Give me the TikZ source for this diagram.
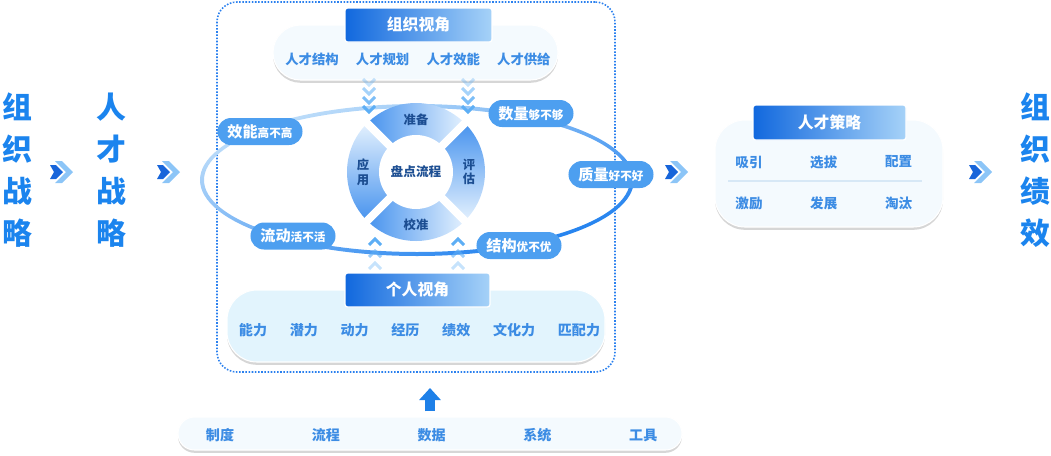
\documentclass[tikz,border=0pt]{standalone}
\usepackage{fontspec}
\setmainfont{Noto Sans CJK SC}
\usepackage{xcolor}
\usetikzlibrary{positioning,shadows,arrows.meta}
\definecolor{big}{HTML}{1B84EE}
\definecolor{hdl}{HTML}{1168DE}
\definecolor{hdm}{HTML}{2F82EA}
\definecolor{hdr}{HTML}{A6D2F8}
\definecolor{pil}{HTML}{F4FAFE}
\definecolor{pilb}{HTML}{E2F4FD}
\definecolor{itx}{HTML}{3C8CE4}
\definecolor{tagc}{HTML}{4D9FF0}
\definecolor{rng}{HTML}{4793EE}
\definecolor{rngl}{HTML}{E4F1FE}
\definecolor{dk}{HTML}{1C4E92}
\definecolor{elt}{HTML}{C4E1FA}
\definecolor{eld}{HTML}{1E7FEE}
\definecolor{chd}{HTML}{1765DA}
\definecolor{chl}{HTML}{8CC5F7}
\definecolor{chv}{HTML}{5DAEF5}
\definecolor{dot}{HTML}{2A80EE}
\definecolor{upc}{HTML}{1E80E8}
\definecolor{sep}{HTML}{D7E8F6}
\tikzset{
  bigtxt/.style={text=big, inner sep=0pt, align=center, font=\fontsize{17}{24}\selectfont\bfseries},
  hdbox/.style={draw=white, line width=0.7pt, rounded corners=1.5pt, left color=hdl, middle color=hdm, right color=hdr, text=white, inner sep=0pt, font=\fontsize{9}{11}\selectfont\bfseries},
  pill/.style={fill=pil, draw=white, line width=0.6pt, drop shadow={shadow xshift=0pt, shadow yshift=-1.6pt, fill=black, opacity=0.16}},
  itm/.style={text=itx, inner sep=0pt, font=\fontsize{7.6}{9}\selectfont\bfseries},
  tag/.style={fill=tagc, text=white, rounded corners=2.7mm, minimum height=5.4mm, inner xsep=2mm, inner ysep=0pt, font=\fontsize{6.6}{8}\selectfont\bfseries},
  seg/.style={text=dk, inner sep=0pt, align=center, font=\fontsize{7}{8.4}\selectfont\bfseries},
  frm/.style={draw=dot, line width=0.9pt, dash pattern=on 0.9pt off 0.9pt, rounded corners=4mm},
  chvl/.style={line width=1.7pt, draw=chv},
  chevpr/.pic={
    \fill[chl] (-7,11) -- (0,11) -- (11,0) -- (0,-11) -- (-7,-11) -- (4,0) -- cycle;
    \fill[chd] (-12,7) -- (-6,7) -- (1,0) -- (-6,-7) -- (-12,-7) -- (-8,0) -- cycle;},
  chevdn/.pic={\draw[chvl] (-6,3) -- (0,-3) -- (6,3);},
  chevup/.pic={\draw[chvl] (-6,-3) -- (0,3) -- (6,-3);}}

\begin{document}
\begin{tikzpicture}[x=0.2mm, y=0.2mm, node distance=0pt]
\useasboundingbox (0,0) rectangle (1051,-455);
% strategy columns
\node[bigtxt] (os) at (17,-170) {组\\织\\战\\略};
\node[bigtxt] (ts) at (111,-170) {人\\才\\战\\略};
\node[bigtxt] (op) at (1035,-170) {组\\织\\绩\\效};
\pic at (62,-172) {chevpr};
\pic at (169,-172) {chevpr};
\pic at (677,-172) {chevpr};
\pic at (981,-172) {chevpr};
% dotted frame and orbit
\node[frm, minimum width=79.6mm, minimum height=74mm] (frame) at (416,-187) {};
\shade[top color=elt, bottom color=eld, shading angle=20, even odd rule] (417,-180) ellipse [x radius=217, y radius=76] (417,-180) ellipse [x radius=213, y radius=72];
% organisation view
\node[pill, rounded corners=5.5mm, minimum width=57mm, minimum height=11mm] (orgp) at (415.5,-52.5) {};
\node[hdbox, minimum width=29.4mm, minimum height=6.8mm] (orgh) at (418.5,-25) {组织视角};
\node[itm] (o1) at (312,-59) {人才结构};
\node[itm, right=3.3mm of o1] (o2) {人才规划};
\node[itm, right=3.3mm of o2] (o3) {人才效能};
\node[itm, right=3.3mm of o3] (o4) {人才供给};
\pic[opacity=0.35] at (369,-82) {chevdn};
\pic[opacity=0.55] at (369,-91) {chevdn};
\pic[opacity=0.8] at (369,-100) {chevdn};
\pic at (369,-109) {chevdn};
\pic[opacity=0.35] at (468,-82) {chevdn};
\pic[opacity=0.55] at (468,-91) {chevdn};
\pic[opacity=0.8] at (468,-100) {chevdn};
\pic at (468,-109) {chevdn};
% ring
\coordinate (rc) at (416,-172);
\shade[left color=rng, right color=rngl] (rc) -- ++(135:69) arc[start angle=135, end angle=45, radius=69] -- cycle;
\shade[top color=rng, bottom color=rngl] (rc) -- ++(45:69) arc[start angle=45, end angle=-45, radius=69] -- cycle;
\shade[left color=rng, right color=rngl] (rc) -- ++(-45:69) arc[start angle=-45, end angle=-135, radius=69] -- cycle;
\shade[top color=rngl, bottom color=rng] (rc) -- ++(-135:69) arc[start angle=-135, end angle=-225, radius=69] -- cycle;
\draw[white, line width=1.6mm] (rc) ++(45:72) -- ++(225:144);
\draw[white, line width=1.6mm] (rc) ++(135:72) -- ++(-45:144);
\node[circle, fill=white, minimum size=14.8mm, inner sep=0pt, text=dk, font=\fontsize{7.2}{8.6}\selectfont\bfseries] (core) at (rc) {盘点流程};
\node[seg] (prep) at (416,-120) {准备};
\node[seg] (eval) at (469,-172) {评\\估};
\node[seg] (cali) at (416,-225) {校准};
\node[seg] (appl) at (363,-172) {应\\用};
% tags on the orbit
\node[tag] (eff) at (260,-131.5) {{\fontsize{8.6}{10}\selectfont 效能}高不高};
\node[tag] (qty) at (531,-113.5) {{\fontsize{8.6}{10}\selectfont 数量}够不够};
\node[tag] (qlt) at (611,-174.5) {{\fontsize{8.6}{10}\selectfont 质量}好不好};
\node[tag] (flw) at (293,-236) {{\fontsize{8.6}{10}\selectfont 流动}活不活};
\node[tag] (stc) at (519,-245.5) {{\fontsize{8.6}{10}\selectfont 结构}优不优};
% individual view
\pic at (375,-242) {chevup};
\pic[opacity=0.6] at (375,-254) {chevup};
\pic[opacity=0.35] at (375,-266) {chevup};
\pic at (458,-242) {chevup};
\pic[opacity=0.6] at (458,-254) {chevup};
\pic[opacity=0.35] at (458,-266) {chevup};
\node[pill, fill=pilb, rounded corners=6mm, minimum width=75.6mm, minimum height=14.4mm] (indp) at (416,-326) {};
\node[hdbox, minimum width=29mm, minimum height=6.8mm] (indh) at (417.5,-290) {个人视角};
\node[itm, font=\fontsize{8}{10}\selectfont\bfseries] (i1) at (253,-330) {能力};
\node[itm, font=\fontsize{8}{10}\selectfont\bfseries, right=4.4mm of i1] (i2) {潜力};
\node[itm, font=\fontsize{8}{10}\selectfont\bfseries, right=4.4mm of i2] (i3) {动力};
\node[itm, font=\fontsize{8}{10}\selectfont\bfseries, right=4.4mm of i3] (i4) {经历};
\node[itm, font=\fontsize{8}{10}\selectfont\bfseries, right=4.4mm of i4] (i5) {绩效};
\node[itm, font=\fontsize{8}{10}\selectfont\bfseries, right=4.4mm of i5] (i6) {文化力};
\node[itm, font=\fontsize{8}{10}\selectfont\bfseries, right=4.4mm of i6] (i7) {匹配力};
% base
\node[pill, rounded corners=3.3mm, minimum width=100.8mm, minimum height=6.6mm] (basep) at (430,-433.5) {};
\node[itm, font=\fontsize{8}{10}\selectfont\bfseries] (b1) at (220,-435) {制度};
\node[itm, font=\fontsize{8}{10}\selectfont\bfseries, right=15.4mm of b1] (b2) {流程};
\node[itm, font=\fontsize{8}{10}\selectfont\bfseries, right=15.4mm of b2] (b3) {数据};
\node[itm, font=\fontsize{8}{10}\selectfont\bfseries, right=15.4mm of b3] (b4) {系统};
\node[itm, font=\fontsize{8}{10}\selectfont\bfseries, right=15.4mm of b4] (b5) {工具};
\coordinate (ua) at (430,-388);
\draw[upc, line width=2mm, shorten <=1mm, -{Triangle[width=4.2mm, length=2.4mm]}] (basep.north) -- (ua);
% talent strategy
\node[pill, rounded corners=6mm, minimum width=45.6mm, minimum height=21.4mm] (strp) at (829,-173.5) {};
\node[hdbox, minimum width=30.6mm, minimum height=7mm] (strh) at (829.5,-122.5) {人才策略};
\draw[sep, line width=0.6pt] (728,-181) -- (922,-181);
\node[itm, font=\fontsize{7.7}{9}\selectfont\bfseries] (s1) at (749,-162) {吸引};
\node[itm, font=\fontsize{7.7}{9}\selectfont\bfseries, right=9.4mm of s1] (s2) {选拔};
\node[itm, font=\fontsize{7.7}{9}\selectfont\bfseries, right=9.4mm of s2] (s3) {配置};
\node[itm, font=\fontsize{7.7}{9}\selectfont\bfseries] (s4) at (749,-203) {激励};
\node[itm, font=\fontsize{7.7}{9}\selectfont\bfseries, right=9.4mm of s4] (s5) {发展};
\node[itm, font=\fontsize{7.7}{9}\selectfont\bfseries, right=9.4mm of s5] (s6) {淘汰};
\end{tikzpicture}
\end{document}
